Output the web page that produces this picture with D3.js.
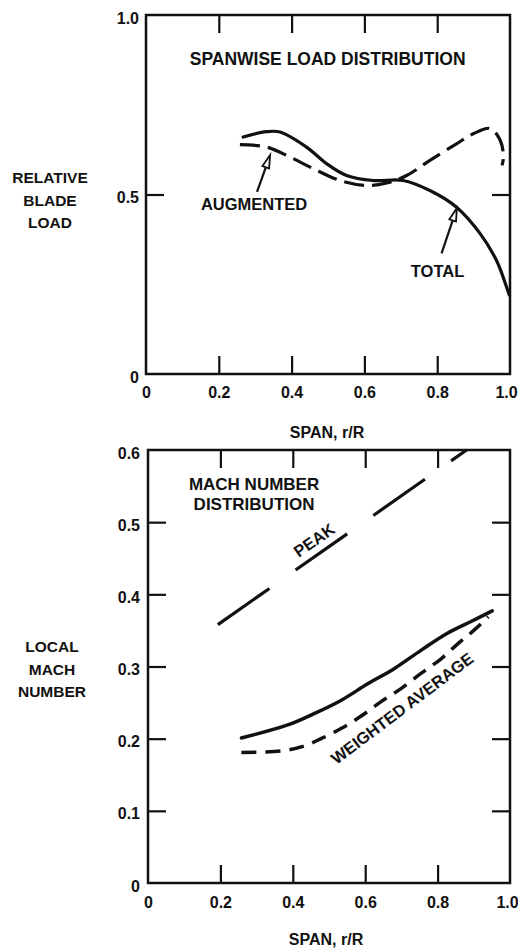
<!DOCTYPE html>
<html>
<head>
<meta charset="utf-8">
<script src="https://cdn.jsdelivr.net/npm/d3@7"></script>
<style>
  html, body { margin: 0; padding: 0; background: #fff; }
  svg { display: block; }
  text { font-family: "Liberation Sans", Arial, Helvetica, sans-serif; font-weight: bold; fill: #111; }
</style>
</head>
<body>
<svg id="chart" width="518" height="949"></svg>
<script>
// ---------- DATA ----------
const spanTicks = [0, 0.2, 0.4, 0.6, 0.8, 1.0];
const spanInnerTicks = [0.2, 0.4, 0.6, 0.8];
const loadTicks = [0, 0.5, 1.0];
const loadInnerTicks = [0.5];
const machTicks = [0, 0.1, 0.2, 0.3, 0.4, 0.5, 0.6];
const machInnerTicks = [0.1, 0.2, 0.3, 0.4, 0.5];

// Spanwise load distribution
const totalSpan = [0.267, 0.331, 0.368, 0.441, 0.496, 0.551, 0.624, 0.706, 0.780, 0.854, 0.918, 0.963, 0.991, 0.998];
const totalLoad = [0.660, 0.675, 0.674, 0.632, 0.586, 0.553, 0.539, 0.539, 0.511, 0.464, 0.391, 0.316, 0.241, 0.220];
const augSpan = [0.258, 0.332, 0.396, 0.460, 0.533, 0.606, 0.661, 0.716, 0.780, 0.854, 0.899, 0.945, 0.973, 0.982, 0.978];
const augLoad = [0.639, 0.632, 0.604, 0.572, 0.539, 0.525, 0.532, 0.553, 0.595, 0.642, 0.669, 0.684, 0.651, 0.604, 0.581];

// Mach number distribution
const peakSpan = [0.193, 0.88];
const peakMach = [0.358, 0.60];
const solidSpan = [0.258, 0.386, 0.460, 0.533, 0.607, 0.680, 0.753, 0.827, 0.891, 0.951];
const solidMach = [0.201, 0.219, 0.235, 0.253, 0.276, 0.297, 0.322, 0.346, 0.362, 0.377];
const weightedSpan = [0.258, 0.368, 0.432, 0.478, 0.533, 0.588, 0.643, 0.698, 0.753, 0.808, 0.855, 0.900, 0.940];
const weightedMach = [0.181, 0.183, 0.190, 0.200, 0.214, 0.231, 0.251, 0.269, 0.290, 0.310, 0.331, 0.350, 0.369];

// ---------- SETUP ----------
const svg = d3.select("#chart");
const zip = (a, b) => a.map((v, i) => [v, b[i]]);
const fmt = d => d === 0 ? "0" : d3.format(".1f")(d);

function frame(x, y, yInner, opts) {
  const g = svg.append("g");
  const [x0, x1] = x.range();
  const [y0, y1] = y.range();
  const tick = 18;
  // inner ticks, all four sides
  g.append("g").attr("transform", `translate(0,${y0})`)
    .call(d3.axisBottom(x).tickValues(spanInnerTicks).tickSize(-tick).tickFormat(""));
  g.append("g").attr("transform", `translate(0,${y1})`)
    .call(d3.axisTop(x).tickValues(spanInnerTicks).tickSize(-tick).tickFormat(""));
  g.append("g").attr("transform", `translate(${x0},0)`)
    .call(d3.axisLeft(y).tickValues(yInner).tickSize(-tick).tickFormat(""));
  g.append("g").attr("transform", `translate(${x1},0)`)
    .call(d3.axisRight(y).tickValues(yInner).tickSize(-tick).tickFormat(""));
  g.selectAll(".domain").remove();
  g.selectAll(".tick line").attr("stroke", "#111").attr("stroke-width", 2.2);
  g.append("rect").attr("x", x0).attr("y", y1).attr("width", x1 - x0).attr("height", y0 - y1)
    .attr("fill", "none").attr("stroke", "#111").attr("stroke-width", 2.5);

  // labels
  const lx = g.append("g").attr("transform", `translate(0,${y0})`)
    .call(d3.axisBottom(x).tickValues(spanTicks).tickSize(0).tickPadding(opts.xPad).tickFormat(fmt));
  const ly = g.append("g").attr("transform", `translate(${x0},0)`)
    .call(d3.axisLeft(y).tickValues(opts.yTicks).tickSize(0).tickPadding(opts.yPad).tickFormat(fmt));
  [lx, ly].forEach(s => {
    s.select(".domain").remove();
    s.attr("font-family", null).attr("font-size", null);
    s.selectAll("text").style("font-size", "16px").attr("fill", "#111");
  });
  lx.selectAll(".tick").filter(d => d === 1).select("text").attr("dx", opts.lastDx);
  ly.selectAll("text").attr("dy", "0.5em");
}

function arrow(g, x1, y1, x2, y2) {
  const ang = Math.atan2(y2 - y1, x2 - x1);
  const L = 13, W = 3.5;
  const bx = x2 - L * Math.cos(ang), by = y2 - L * Math.sin(ang);
  g.append("line").attr("x1", x1).attr("y1", y1).attr("x2", bx).attr("y2", by)
    .attr("stroke", "#111").attr("stroke-width", 2.2);
  const px = -Math.sin(ang) * W, py = Math.cos(ang) * W;
  g.append("path")
    .attr("d", `M${x2},${y2}L${bx + px},${by + py}L${bx - px},${by - py}Z`)
    .attr("fill", "#fff").attr("stroke", "#111").attr("stroke-width", 1.8).attr("stroke-linejoin", "miter");
}

// ---------- TOP CHART ----------
const xT = d3.scaleLinear([0, 1], [146, 510]);
const yT = d3.scaleLinear([0, 1], [374, 15]);
frame(xT, yT, loadInnerTicks, { yTicks: loadTicks, xPad: 13, yPad: 7, lastDx: -4 });

const lineT = d3.line().x(d => xT(d[0])).y(d => yT(d[1])).curve(d3.curveCatmullRom.alpha(0.5));
svg.append("path").datum(zip(totalSpan, totalLoad)).attr("d", lineT)
  .attr("fill", "none").attr("stroke", "#111").attr("stroke-width", 3.2).attr("stroke-linecap", "round");
svg.append("path").datum(zip(augSpan, augLoad)).attr("d", lineT)
  .attr("fill", "none").attr("stroke", "#111").attr("stroke-width", 3.2)
  .attr("stroke-dasharray", "20,8");

const annT = svg.append("g");
annT.append("text").attr("x", xT(0.499)).attr("y", yT(0.861)).attr("text-anchor", "middle")
  .style("font-size", "17.5px").text("SPANWISE LOAD DISTRIBUTION");
annT.append("text").attr("x", xT(0.297)).attr("y", yT(0.457)).attr("text-anchor", "middle")
  .style("font-size", "16.5px").text("AUGMENTED");
annT.append("text").attr("x", xT(0.801)).attr("y", yT(0.270)).attr("text-anchor", "middle")
  .style("font-size", "16.5px").text("TOTAL");
arrow(annT, xT(0.305), yT(0.507), xT(0.341), yT(0.610));
arrow(annT, xT(0.812), yT(0.336), xT(0.854), yT(0.462));

const yTitleT = svg.append("text").attr("text-anchor", "middle").style("font-size", "15.5px");
["RELATIVE", "BLADE", "LOAD"].forEach((t, i) =>
  yTitleT.append("tspan").attr("x", 50).attr("y", 183 + i * 22.5).text(t));
svg.append("text").attr("x", 327).attr("y", 438).attr("text-anchor", "middle")
  .style("font-size", "16px").text("SPAN, r/R");

// ---------- BOTTOM CHART ----------
const xB = d3.scaleLinear([0, 1], [148, 510]);
const yB = d3.scaleLinear([0, 0.6], [883, 450]);
frame(xB, yB, machInnerTicks, { yTicks: machTicks, xPad: 14, yPad: 8, lastDx: -3 });

const lineB = d3.line().x(d => xB(d[0])).y(d => yB(d[1])).curve(d3.curveCatmullRom.alpha(0.5));
svg.append("path").datum(zip(peakSpan, peakMach)).attr("d", d3.line().x(d => xB(d[0])).y(d => yB(d[1])))
  .attr("fill", "none").attr("stroke", "#111").attr("stroke-width", 3.2)
  .attr("stroke-dasharray", "63,32");
svg.append("path").datum(zip(solidSpan, solidMach)).attr("d", lineB)
  .attr("fill", "none").attr("stroke", "#111").attr("stroke-width", 3.5).attr("stroke-linecap", "round");
svg.append("path").datum(zip(weightedSpan, weightedMach)).attr("d", lineB)
  .attr("fill", "none").attr("stroke", "#111").attr("stroke-width", 3.5)
  .attr("stroke-dasharray", "15,9");

const annB = svg.append("g");
const mt = annB.append("text").attr("text-anchor", "middle").style("font-size", "17px");
["MACH NUMBER", "DISTRIBUTION"].forEach((t, i) =>
  mt.append("tspan").attr("x", xB(0.293)).attr("y", yB(0.5446) + i * 20).text(t));
annB.append("text")
  .attr("transform", `translate(${xB(0.459)},${yB(0.475)}) rotate(-35)`)
  .attr("text-anchor", "middle").attr("dy", "0.35em").style("font-size", "16.5px").text("PEAK");
annB.append("text")
  .attr("transform", `translate(${xB(0.702)},${yB(0.242)}) rotate(-37)`)
  .attr("text-anchor", "middle").attr("dy", "0.35em").style("font-size", "16.5px").text("WEIGHTED AVERAGE");

const yTitleB = svg.append("text").attr("text-anchor", "middle").style("font-size", "15.5px");
["LOCAL", "MACH", "NUMBER"].forEach((t, i) =>
  yTitleB.append("tspan").attr("x", 52).attr("y", 652 + i * 22.5).text(t));
svg.append("text").attr("x", 326).attr("y", 945).attr("text-anchor", "middle")
  .style("font-size", "16px").text("SPAN, r/R");
</script>
</body>
</html>
